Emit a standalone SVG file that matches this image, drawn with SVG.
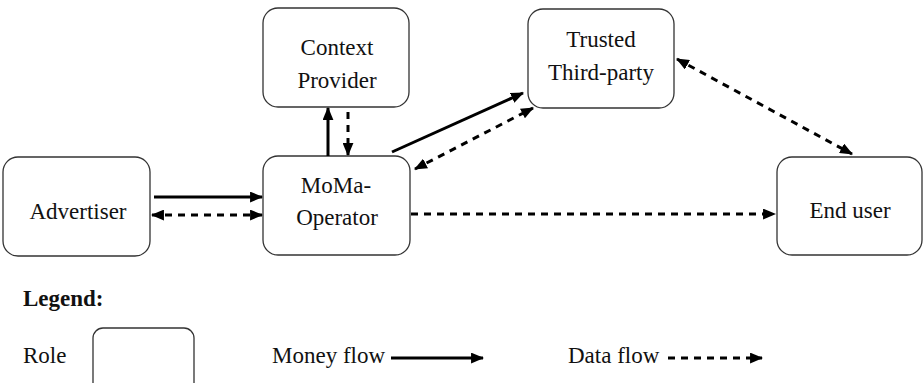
<svg xmlns="http://www.w3.org/2000/svg" width="924" height="383" viewBox="0 0 924 383">
  <style>
    .box { fill: #ffffff; stroke: #333333; stroke-width: 1.3; }
    text { font-family: 'Liberation Serif', 'DejaVu Serif', serif; font-size: 23px; fill: #111111; }
    .mid { text-anchor: middle; }
    .money { stroke: #000000; stroke-width: 3; fill: none; }
    .data { stroke: #000000; stroke-width: 3; fill: none; stroke-dasharray: 7 6; }
  </style>
  <defs>
    <marker id="head" viewBox="0 0 12 10" refX="11" refY="5" markerWidth="13" markerHeight="11" markerUnits="userSpaceOnUse" orient="auto-start-reverse">
      <path d="M0,0 L12,5 L0,10 z" fill="#000000"/>
    </marker>
  </defs>
  <rect width="924" height="383" fill="#ffffff"/>

  <g id="advertiser">
    <rect class="box" x="3" y="157" width="147" height="99" rx="15"/>
    <text class="mid" x="78" y="219">Advertiser</text>
  </g>
  <g id="context-provider">
    <rect class="box" x="263" y="8" width="146" height="99" rx="15"/>
    <text class="mid" x="337" y="55">Context</text>
    <text class="mid" x="337" y="88">Provider</text>
  </g>
  <g id="moma-operator">
    <rect class="box" x="263" y="156" width="147" height="99" rx="15"/>
    <text class="mid" x="336" y="193">MoMa-</text>
    <text class="mid" x="337" y="225">Operator</text>
  </g>
  <g id="trusted-third-party">
    <rect class="box" x="528" y="9" width="146" height="99" rx="15"/>
    <text class="mid" x="601" y="47">Trusted</text>
    <text class="mid" x="601" y="80">Third-party</text>
  </g>
  <g id="end-user">
    <rect class="box" x="777" y="157" width="145" height="98" rx="15"/>
    <text class="mid" x="850" y="218">End user</text>
  </g>

  <g id="connectors">
    <path class="money" d="M154,197 L262,197" marker-end="url(#head)"/>
    <path class="data" d="M152,215 L262,215" marker-start="url(#head)" marker-end="url(#head)"/>
    <path class="money" d="M328,156 L328,108" marker-end="url(#head)"/>
    <path class="data" d="M348,112 L348,155" marker-end="url(#head)"/>
    <path class="money" d="M392,152 L523,93" marker-end="url(#head)"/>
    <path class="data" d="M415,169 L533,108" marker-start="url(#head)" marker-end="url(#head)"/>
    <path class="data" d="M677,59 L852,154" marker-start="url(#head)" marker-end="url(#head)"/>
    <path class="data" d="M411,214 L775,214" marker-end="url(#head)"/>
  </g>

  <g id="legend">
    <text x="23" y="306" font-weight="bold">Legend:</text>
    <text x="23" y="363">Role</text>
    <rect class="box" x="93" y="328" width="101" height="70" rx="10"/>
    <text x="272" y="363">Money flow</text>
    <path class="money" d="M391,358 L483,358" marker-end="url(#head)"/>
    <text x="568" y="363">Data flow</text>
    <path class="data" d="M668,358 L762,358" marker-end="url(#head)"/>
  </g>
</svg>
